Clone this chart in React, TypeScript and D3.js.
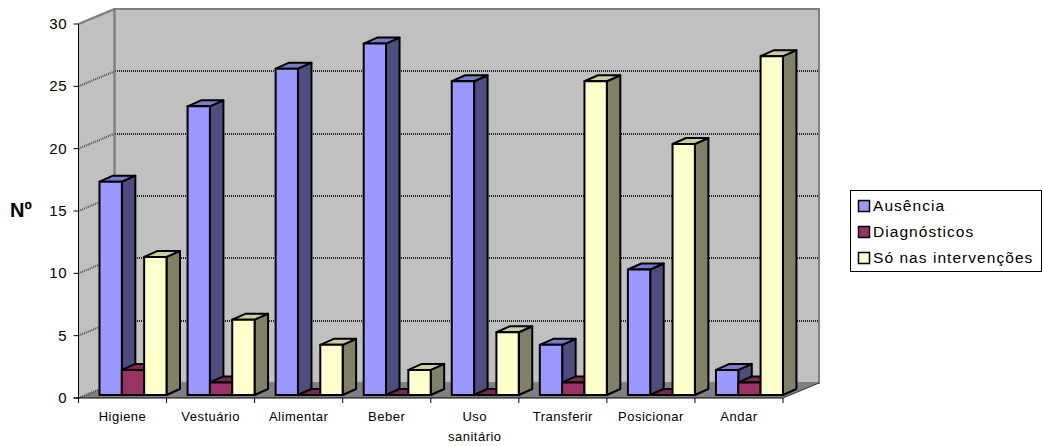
import React from 'react'
import * as d3 from 'd3'

const categories = ['Higiene', 'Vestuário', 'Alimentar', 'Beber', ['Uso', 'sanitário'], 'Transferir', 'Posicionar', 'Andar']
const ausencia = [17, 23, 26, 28, 25, 4, 10, 2]
const diagnosticos = [2, 1, 0, 0, 0, 1, 0, 1]
const intervencoes = [11, 6, 4, 2, 5, 25, 20, 27]
const yTicks = [0, 5, 10, 15, 20, 25, 30]

const series = [
  { name: 'Ausência', values: ausencia, front: '#9999ff', top: '#7a7acc', side: '#4d4d80' },
  { name: 'Diagnósticos', values: diagnosticos, front: '#993366', top: '#7a2952', side: '#4d1a33' },
  { name: 'Só nas intervenções', values: intervencoes, front: '#ffffcc', top: '#cccca3', side: '#808066' },
]

const font = '"Liberation Sans", Arial, sans-serif'

// front plane of the 3d box, the back wall is shifted by wallDx / wallDy
const left = 78.5
const right = 783
const wallDx = 36
const wallDy = 15
const barDx = 13.5
const barDy = 6

export default function App() {
  const x = d3.scaleBand<number>().domain(d3.range(categories.length)).range([left, right])
  const y = d3.scaleLinear().domain([0, 30]).range([398, 24])
  // bars stand a bit inside the floor
  const yBar = d3.scaleLinear().domain([0, 30]).range([395, 18.5])
  const inner = d3.scaleBand<number>().domain([0, 1, 2]).range([21, 88])

  const floorY = y(0)
  const topY = y(30)

  return (
    <svg width={1043} height={446} style={{ position: 'absolute', left: 0, top: 0, fontFamily: font }}>
      <rect width={1043} height={446} fill="#fff" />
      {/* walls and floor */}
      <polygon
        points={`${left},${floorY} ${left},${topY} ${left + wallDx},${topY - wallDy} ${left + wallDx},${floorY - wallDy}`}
        fill="#c0c0c0"
      />
      <rect x={left + wallDx} y={topY - wallDy} width={right - left} height={floorY - topY} fill="#c0c0c0" stroke="#808080" strokeWidth={2} />
      <polygon
        points={`${left},${floorY} ${left + wallDx},${floorY - wallDy} ${right + wallDx},${floorY - wallDy} ${right},${floorY}`}
        fill="#808080"
      />
      {/* gridlines, dotted */}
      {yTicks.map(t => (
        <g key={t} fill="none">
          <line x1={left} y1={y(t)} x2={left + wallDx} y2={y(t) - wallDy} stroke="#000" strokeOpacity={0.6} strokeWidth={2} strokeDasharray="1 1" />
          {t > 0 && t < 30 && (
            <line
              x1={Math.round(left + wallDx)}
              y1={Math.round(y(t) - wallDy)}
              x2={right + wallDx}
              y2={Math.round(y(t) - wallDy)}
              stroke="#222"
              strokeWidth={2}
              strokeDasharray="1 1"
              shapeRendering="crispEdges"
            />
          )}
        </g>
      ))}
      <line x1={left} y1={topY} x2={left + wallDx} y2={topY - wallDy} stroke="#808080" strokeWidth={2} />
      <line x1={left + wallDx} y1={topY - wallDy} x2={left + wallDx} y2={floorY - wallDy} stroke="#808080" strokeWidth={2} />
      {/* bars */}
      {categories.map((_, i) =>
        series.map((s, j) => {
          const x0 = (x(i) as number) + (inner(j) as number)
          const x1 = x0 + inner.bandwidth()
          const y0 = yBar(0)
          const y1 = yBar(s.values[i])
          return (
            <g key={`${i}-${j}`} stroke="#000" strokeWidth={2} strokeLinejoin="round">
              <polygon
                points={`${x1},${y1} ${x1 + barDx},${y1 - barDy} ${x1 + barDx},${y0 - barDy} ${x1},${y0}`}
                fill={s.side}
              />
              <polygon
                points={`${x0},${y1} ${x0 + barDx},${y1 - barDy} ${x1 + barDx},${y1 - barDy} ${x1},${y1}`}
                fill={s.top}
              />
              <rect x={x0} y={y1} width={x1 - x0} height={y0 - y1} fill={s.front} />
            </g>
          )
        })
      )}
      {/* axes */}
      <g stroke="#000" strokeWidth={1} fill="none">
        <line x1={left} y1={topY} x2={left} y2={floorY + 5} />
        <line x1={left - 5} y1={floorY} x2={right} y2={floorY} />
        <line x1={right} y1={floorY} x2={right + wallDx} y2={floorY - wallDy} stroke="#333" />
        {yTicks.map(t => (
          <line key={t} x1={left - 5} y1={y(t)} x2={left} y2={y(t)} />
        ))}
        {d3.range(categories.length + 1).map(i => {
          const tx = left + i * x.bandwidth()
          return <line key={i} x1={tx} y1={floorY} x2={tx} y2={floorY + 5} />
        })}
      </g>
      {yTicks.map(t => (
        <text key={t} x={67} y={y(t) + 5} textAnchor="end" fontSize={15} letterSpacing={0.5} fill="#000">
          {t}
        </text>
      ))}
      {categories.map((c, i) => {
        const cx = (x(i) as number) + x.bandwidth() / 2
        const lines = Array.isArray(c) ? c : [c]
        return (
          <text key={i} textAnchor="middle" fontSize={13} letterSpacing={0.5} fill="#000">
            {lines.map((l, k) => (
              <tspan key={k} x={cx} y={421 + k * 20}>
                {l}
              </tspan>
            ))}
          </text>
        )
      })}
      <text x={10} y={217} fontSize={20} fontWeight="bold" fill="#000">
        Nº
      </text>
      {/* legend */}
      <rect x={850.5} y={190.5} width={191} height={81} fill="#fff" stroke="#000" strokeWidth={1} />
      {series.map((s, j) => {
        const ly = 206 + j * 26
        return (
          <g key={s.name}>
            <rect x={858.5} y={ly - 5.5} width={11} height={11} fill={s.front} stroke="#000" strokeWidth={1.5} />
            <text x={873} y={ly + 4.5} fontSize={15.5} letterSpacing={1.05} fill="#000">
              {s.name}
            </text>
          </g>
        )
      })}
    </svg>
  )
}
